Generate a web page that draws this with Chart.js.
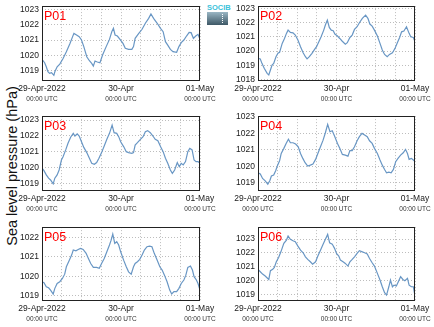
<!DOCTYPE html>
<html>
<head>
<meta charset="utf-8">
<script src="https://cdn.jsdelivr.net/npm/chart.js@4.4.0/dist/chart.umd.min.js"></script>
<style>
  html, body { margin: 0; padding: 0; background: #fff; }
  body { position: relative; width: 434px; height: 327px; overflow: hidden; font-family: "Liberation Sans", Arial, sans-serif; }
  canvas { position: absolute; }
  #ylabel { position: absolute; left: 12px; top: 166px; transform: translate(-50%, -50%) rotate(-90deg); white-space: nowrap; font-size: 14.5px; color: #111; }
  #logo { position: absolute; left: 207px; top: 4px; width: 21px; }
  #logo .txt { font-size: 7.5px; line-height: 8px; font-weight: bold; color: #3cc2da; text-align: center; }
  #logo .box { position: relative; height: 13px; background: linear-gradient(#9ab6c4, #3e5866); }
  #logo .box::after { content: ""; position: absolute; left: 15px; top: 2px; height: 9px; border-left: 1px dotted #fff; }
</style>
</head>
<body>
<div id="ylabel">Sea level pressure (hPa)</div>
<div id="logo"><div class="txt">SOCIB</div><div class="box"></div></div>

<script>
// hours since 29-Apr-2022 00:00 UTC, pressure in hPa
const p01Hours = [0.0,0.8,1.3,1.8,2.3,2.9,3.6,3.9,4.6,5.4,6.4,7.4,8.5,9.3,9.7,10.5,11.3,12.0,12.7,13.6,14.4,15.1,15.6,16.1,16.8,17.6,18.4,19.5,20.5,21.2,21.7,22.2,22.9,23.7,24.6,25.3,26.3,27.3,27.8,28.3,29.4,30.4,31.4,32.4,33.1,33.9,35.0,36.0,36.8,37.5,38.2,39.0,39.8,40.9,41.6,42.3,43.1,43.9,44.7,45.3,46.0,46.7,47.4,48.0];
const p01Pressure = [1019.74,1019.52,1019.26,1018.93,1018.83,1018.87,1018.70,1018.93,1019.26,1019.43,1019.80,1020.24,1020.78,1021.22,1021.43,1021.33,1021.22,1021.00,1020.57,1019.91,1019.65,1019.48,1019.30,1019.63,1019.57,1019.52,1020.02,1020.57,1021.04,1021.54,1021.76,1021.33,1021.26,1021.04,1020.78,1020.46,1020.39,1020.39,1020.57,1021.11,1021.43,1021.70,1022.09,1022.41,1022.70,1022.41,1022.09,1021.76,1021.54,1020.89,1020.67,1020.39,1020.24,1020.20,1020.57,1020.83,1021.00,1021.26,1021.50,1021.48,1021.11,1021.26,1021.37,1021.04];

const p02Hours = [0.0,0.7,1.2,1.9,2.8,3.3,3.8,4.3,4.8,5.5,6.1,6.6,7.4,8.1,8.7,9.2,9.9,10.7,11.4,12.2,13.0,13.8,14.5,15.0,15.7,16.5,17.3,17.9,18.6,19.3,20.1,20.6,21.2,21.8,22.4,23.0,23.5,24.3,25.0,25.7,26.7,27.3,28.1,28.8,29.5,30.3,31.0,31.9,32.9,33.6,34.2,34.9,35.6,36.5,37.3,38.0,38.7,39.5,40.2,41.1,41.9,42.6,43.3,43.9,44.6,45.4,46.2,46.7,47.5,48.0];
const p02Pressure = [1019.48,1019.44,1019.13,1018.78,1018.42,1018.31,1018.66,1019.01,1019.13,1019.60,1019.84,1019.91,1020.54,1020.89,1021.25,1021.48,1021.32,1021.29,1021.13,1020.78,1020.31,1019.88,1019.60,1019.44,1019.60,1019.84,1020.12,1020.31,1020.66,1021.01,1021.48,1021.84,1022.19,1021.67,1021.48,1021.44,1021.20,1021.06,1020.89,1020.71,1020.49,1020.59,1020.96,1021.13,1021.53,1021.72,1022.00,1022.31,1022.54,1022.31,1021.91,1021.76,1021.48,1021.06,1020.54,1020.07,1019.76,1019.60,1019.76,1019.88,1020.19,1020.59,1020.96,1021.36,1021.41,1021.72,1021.25,1021.01,1020.96,1020.66];

const p03Hours = [0.0,0.6,1.3,2.0,2.6,3.4,3.9,4.6,5.2,5.9,6.4,7.2,7.9,8.7,9.5,10.0,10.7,11.3,12.0,12.7,13.6,14.4,15.1,15.9,16.6,17.3,18.1,18.9,19.7,20.5,21.3,21.9,22.7,23.3,23.9,24.8,25.6,26.3,27.3,27.8,28.3,29.0,29.9,30.7,31.4,32.1,32.9,33.7,34.4,35.2,36.0,36.8,37.5,38.2,39.0,39.6,40.3,41.1,41.7,42.3,42.9,43.6,44.3,44.9,45.6,46.2,46.8,47.4,48.0];
const p03Pressure = [1019.95,1019.80,1019.53,1019.32,1019.21,1018.96,1019.32,1019.53,1019.84,1020.47,1020.68,1021.11,1021.53,1021.91,1022.16,1021.99,1022.12,1021.99,1021.63,1021.27,1020.94,1020.58,1020.26,1020.20,1020.31,1020.58,1020.94,1021.36,1021.78,1022.16,1022.68,1022.20,1022.16,1021.95,1021.63,1021.32,1021.00,1020.94,1020.89,1020.94,1021.42,1021.57,1021.78,1021.95,1022.26,1022.33,1022.20,1021.99,1021.78,1021.69,1021.32,1021.00,1020.58,1020.26,1019.84,1019.63,1019.84,1020.31,1020.05,1020.26,1020.16,1020.37,1021.00,1021.21,1021.11,1020.47,1020.37,1020.37,1020.26];

const p04Hours = [0.0,0.7,1.4,2.2,3.0,3.6,4.1,4.8,5.4,6.0,6.6,7.1,7.9,8.6,9.3,9.9,10.7,11.5,12.3,13.0,13.7,14.4,15.2,16.0,16.8,17.6,18.3,19.1,19.9,20.6,21.3,22.0,22.7,23.4,24.3,25.0,25.8,26.7,27.5,28.1,28.8,29.5,30.3,31.0,31.8,32.6,33.4,34.1,34.9,35.6,36.5,37.3,38.0,38.7,39.3,40.0,40.7,41.4,42.1,42.8,43.6,44.4,45.1,45.7,46.2,46.9,47.5,48.0];
const p04Pressure = [1019.61,1019.53,1019.26,1019.12,1018.92,1019.12,1019.41,1019.47,1019.73,1020.07,1020.34,1020.78,1021.09,1021.39,1021.64,1021.43,1021.43,1021.35,1021.19,1020.78,1020.48,1020.22,1020.01,1020.07,1020.14,1020.42,1020.78,1021.19,1021.59,1022.04,1022.55,1022.10,1022.16,1021.84,1021.39,1021.09,1020.72,1020.68,1020.62,1020.95,1020.95,1021.19,1021.55,1021.80,1022.00,1021.90,1021.80,1021.55,1021.39,1021.09,1020.78,1020.38,1020.07,1019.81,1019.61,1019.65,1019.61,1019.81,1020.28,1020.48,1020.68,1020.82,1021.03,1020.78,1020.42,1020.48,1020.38,1020.28];

const p05Hours = [0.0,0.6,1.3,2.0,2.6,3.4,3.9,4.6,5.4,6.2,6.9,7.4,8.3,9.0,9.5,10.3,11.0,11.7,12.5,13.4,14.1,14.8,15.6,16.6,17.4,18.1,18.9,19.7,20.5,21.0,21.5,22.1,22.7,23.3,23.9,24.8,25.6,26.3,27.1,27.8,28.3,29.0,29.7,30.4,31.1,31.9,32.7,33.4,34.1,35.0,35.8,36.5,37.2,38.0,38.8,39.4,40.1,40.9,41.6,42.3,43.1,43.7,44.3,45.1,45.7,46.2,46.9,47.4,48.0];
const p05Pressure = [1019.72,1019.67,1019.46,1019.41,1019.29,1019.09,1019.38,1019.63,1019.72,1019.89,1020.11,1020.49,1020.83,1021.09,1021.35,1021.31,1021.38,1021.43,1021.38,1021.18,1020.92,1020.66,1020.46,1020.46,1020.41,1020.66,1020.92,1021.26,1021.61,1021.86,1022.17,1021.69,1021.78,1021.61,1021.26,1020.83,1020.49,1020.23,1020.11,1020.49,1020.66,1020.75,1020.87,1021.09,1021.35,1021.52,1021.55,1021.52,1021.18,1020.83,1020.49,1020.32,1020.06,1019.72,1019.29,1019.09,1019.21,1019.21,1019.38,1019.63,1019.81,1020.06,1020.46,1020.53,1020.32,1019.98,1019.81,1019.63,1019.29];

const p06Hours = [0.0,0.7,1.4,2.2,3.3,3.8,4.5,5.0,5.6,6.3,7.0,7.9,8.7,9.2,9.9,10.7,11.4,12.2,13.0,13.8,14.5,15.2,16.0,16.7,17.6,18.3,19.1,19.8,20.5,21.3,21.9,22.7,23.4,24.0,24.7,25.2,26.0,26.7,27.5,28.1,28.8,29.5,30.3,31.0,31.9,32.6,33.4,34.1,34.9,35.6,36.5,37.3,38.0,38.7,39.3,40.0,40.5,41.1,41.6,42.3,42.9,43.6,44.3,44.9,45.7,46.2,46.9,47.5,48.0];
const p06Pressure = [1020.81,1020.64,1020.47,1020.33,1020.08,1020.71,1020.81,1020.95,1021.36,1021.67,1022.08,1022.69,1022.93,1023.22,1022.98,1022.88,1022.81,1022.49,1022.20,1022.01,1021.72,1021.53,1021.36,1021.19,1021.36,1021.77,1022.20,1022.57,1022.93,1023.34,1022.73,1022.64,1022.33,1021.96,1021.77,1021.48,1021.36,1021.24,1021.05,1021.36,1021.53,1021.72,1021.96,1022.16,1022.08,1022.01,1021.92,1021.60,1021.29,1021.05,1020.52,1020.04,1019.55,1019.12,1018.95,1019.55,1020.04,1019.55,1019.67,1019.60,1019.92,1020.28,1020.08,1019.99,1020.16,1019.67,1019.55,1019.55,1018.88];

const tickHours = [0, 24, 48];
const tickDates = ['29-Apr-2022', '30-Apr', '01-May'];
const tickTime = '00:00 UTC';

// panel grid (plot box edges in page pixels)
const colLeft = [42, 258];
const colRight = [200, 415];
const rowTop = [6, 116, 227];
const rowBottom = [81, 191, 301];

const panels = [
    { name: 'P01', hours: p01Hours, pressure: p01Pressure, yMin: 1018.33, yMax: 1023.21, col: 0, row: 0 },
    { name: 'P02', hours: p02Hours, pressure: p02Pressure, yMin: 1017.88, yMax: 1023.18, col: 1, row: 0 },
    { name: 'P03', hours: p03Hours, pressure: p03Pressure, yMin: 1018.51, yMax: 1023.25, col: 0, row: 1 },
    { name: 'P04', hours: p04Hours, pressure: p04Pressure, yMin: 1018.50, yMax: 1023.05, col: 1, row: 1 },
    { name: 'P05', hours: p05Hours, pressure: p05Pressure, yMin: 1018.73, yMax: 1022.53, col: 0, row: 2 },
    { name: 'P06', hours: p06Hours, pressure: p06Pressure, yMin: 1018.52, yMax: 1023.87, col: 1, row: 2 }
];

const fontFamily = "'Liberation Sans', Arial, sans-serif";
const axisWidth = 42;
const padTop = 8;
const padRight = 20;
const dateRowHeight = 12;
const timeRowHeight = 12;

// frame + station name on top of the plot
const framePlugin = {
    id: 'frame',
    afterDraw(chart, args, opts) {
        const a = chart.chartArea;
        const ctx = chart.ctx;
        const l = Math.round(a.left), t = Math.round(a.top);
        const r = Math.round(a.right), b = Math.round(a.bottom);
        ctx.save();
        ctx.strokeStyle = '#222';
        ctx.lineWidth = 1;
        ctx.strokeRect(l + 0.5, t + 0.5, r - l - 1, b - t - 1);
        ctx.fillStyle = '#ff0000';
        ctx.font = '12.5px ' + fontFamily;
        ctx.textBaseline = 'alphabetic';
        ctx.fillText(opts.name, l + 2, t + 13.5);
        ctx.restore();
    }
};

function createPanel(p) {
    const left = colLeft[p.col] - axisWidth;
    const top = rowTop[p.row] - padTop;
    const width = colRight[p.col] + padRight - left;
    const height = rowBottom[p.row] - rowTop[p.row] + padTop + dateRowHeight + timeRowHeight;

    const canvas = document.createElement('canvas');
    canvas.width = width;
    canvas.height = height;
    canvas.style.left = left + 'px';
    canvas.style.top = top + 'px';
    canvas.style.width = width + 'px';
    canvas.style.height = height + 'px';
    document.body.appendChild(canvas);

    const points = p.hours.map((h, i) => ({ x: h, y: p.pressure[i] }));

    return new Chart(canvas, {
        type: 'line',
        data: {
            datasets: [{
                data: points,
                borderColor: 'rgb(104,150,196)',
                borderWidth: 1.2,
                pointRadius: 0,
                tension: 0,
                fill: false
            }]
        },
        options: {
            responsive: false,
            animation: false,
            events: [],
            layout: { padding: { top: padTop, right: padRight, left: 0, bottom: 0 } },
            plugins: {
                legend: { display: false },
                tooltip: { enabled: false },
                frame: { name: p.name }
            },
            scales: {
                x: {
                    type: 'linear',
                    position: 'bottom',
                    min: 0,
                    max: 48,
                    weight: 0,
                    afterFit: (s) => { s.height = dateRowHeight; },
                    grid: { color: '#bdbdbd', lineWidth: 1, drawTicks: false },
                    border: { display: false, dash: [1, 2] },
                    ticks: {
                        stepSize: 6,
                        autoSkip: false,
                        maxRotation: 0,
                        includeBounds: false,
                        padding: 3,
                        color: '#1a1a1a',
                        font: { family: fontFamily, size: 8.5 },
                        callback: (v) => {
                            const i = tickHours.indexOf(v);
                            return i >= 0 ? tickDates[i] : '';
                        }
                    }
                },
                x2: {
                    type: 'linear',
                    axis: 'x',
                    position: 'bottom',
                    min: 0,
                    max: 48,
                    weight: 1,
                    afterFit: (s) => { s.height = timeRowHeight; },
                    grid: { display: false, drawTicks: false },
                    border: { display: false },
                    ticks: {
                        stepSize: 24,
                        autoSkip: false,
                        maxRotation: 0,
                        includeBounds: false,
                        padding: 2,
                        color: '#333',
                        font: { family: fontFamily, size: 6.5 },
                        callback: (v) => tickHours.includes(v) ? tickTime : ''
                    }
                },
                y: {
                    type: 'linear',
                    min: p.yMin,
                    max: p.yMax,
                    afterFit: (s) => { s.width = axisWidth; },
                    grid: { color: '#bdbdbd', lineWidth: 1, drawTicks: false },
                    border: { display: false, dash: [1, 2] },
                    ticks: {
                        stepSize: 1,
                        includeBounds: false,
                        padding: 3,
                        color: '#1a1a1a',
                        font: { family: fontFamily, size: 8.5 },
                        callback: (v) => String(v)
                    }
                }
            }
        },
        plugins: [framePlugin]
    });
}

panels.forEach(createPanel);
</script>
</body>
</html>
